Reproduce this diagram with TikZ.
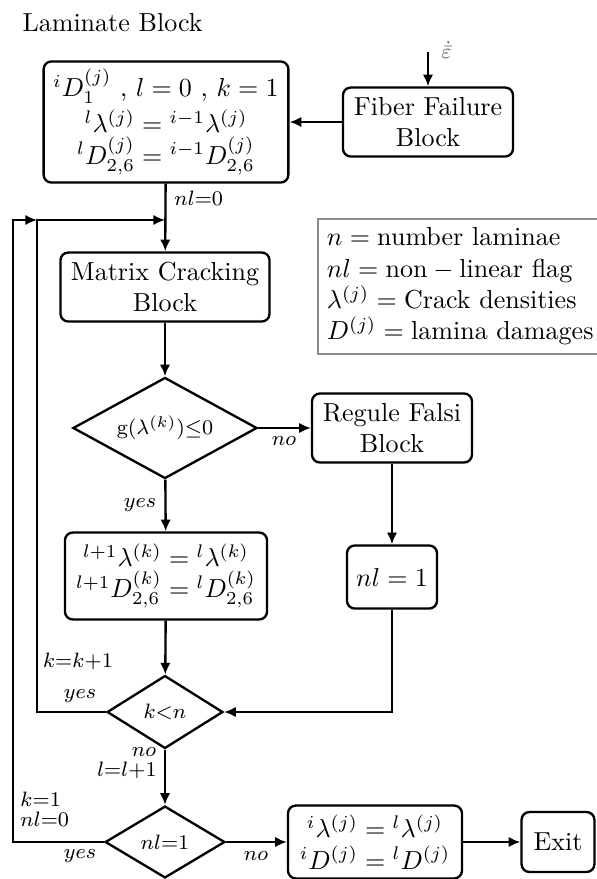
\documentclass[tikz,border=0pt]{standalone}
\usepackage{amssymb, mathtools, amsmath}
\usepackage{tikz}
\usetikzlibrary{shapes.geometric,arrows.meta}

\begin{document}
\begin{tikzpicture}[x=0.384pt,y=0.384pt,yscale=-1,xscale=1,
  blk/.style={draw,line width=0.9pt,rounded corners=3pt,align=center,inner sep=1pt},
  dmd/.style={draw,line width=0.9pt,diamond,aspect=1.8,inner sep=0pt,font=\footnotesize},
  arr/.style={line width=0.9pt,-{Latex[length=4.5pt,width=4pt]}},
  lbl/.style={inner sep=0.75pt,font=\footnotesize}]
\useasboundingbox (0,0) rectangle (597,879);

% Text Node
\node (title) [anchor=west,inner sep=0pt] at (22,23) {Laminate Block};

%Shape: Rounded Rect [init]
\node (init) [blk,minimum width=94pt,minimum height=46.5pt] at (166,122)
  {${}^{i}D_{1}^{(j)}$ , $l=0$ , $k=1$\\[2pt]
   ${}^{l}\lambda^{(j)}={}^{i-1}\lambda^{(j)}$\\
   ${}^{l}D_{2,6}^{(j)}={}^{i-1}D_{2,6}^{(j)}$};
%Shape: Rounded Rect [fiber]
\node (fiber) [blk,minimum width=65.3pt,minimum height=26.5pt] at (428,122) {Fiber Failure\\Block};
%Shape: Rounded Rect [matrix]
\node (matrix) [blk,minimum width=80.3pt,minimum height=26.5pt] at (165,287) {Matrix Cracking\\Block};
%Shape: Diamond [g]
\node (gd) [dmd,minimum width=70.7pt,minimum height=38.8pt] at (165,428) {$\mathrm{g}(\lambda^{(k)}){\leq}0$};
%Shape: Rounded Rect [regule]
\node (regule) [blk,minimum width=61.4pt,minimum height=26.5pt] at (392,428) {Regule Falsi\\Block};
%Shape: Rounded Rect [nl]
\node (nlbox) [blk,minimum width=34.6pt,minimum height=24.2pt] at (392,577) {$nl=1$};
%Shape: Rounded Rect [update]
\node (update) [blk,minimum width=77.6pt,minimum height=33.4pt] at (166,576)
  {${}^{l+1}\lambda^{(k)}={}^{l}\lambda^{(k)}$\\
   ${}^{l+1}D_{2,6}^{(k)}={}^{l}D_{2,6}^{(k)}$};
%Shape: Diamond [k<n]
\node (kn) [dmd,minimum width=44.5pt,minimum height=28pt] at (165,712) {$k{<}n$};
%Shape: Diamond [nl=1]
\node (nld) [dmd,minimum width=46pt,minimum height=27.6pt] at (165,842) {$nl{=}1$};
%Shape: Rounded Rect [final]
\node (final) [blk,minimum width=66.8pt,minimum height=28pt] at (375,842)
  {${}^{i}\lambda^{(j)}={}^{l}\lambda^{(j)}$\\
   ${}^{i}D^{(j)}={}^{l}D^{(j)}$};
%Shape: Rounded Rect [exit]
\node (exit) [blk,minimum width=28pt,minimum height=23pt] at (558,842) {Exit};

%Shape: Rect [legend]
\node (legend) [draw=black!45,line width=0.6pt,anchor=north west,align=left,inner sep=3.5pt] at (317,218)
  {$n=\text{number laminae}$\\
   $nl=\text{non}-\text{linear flag}$\\
   $\lambda^{(j)}=\text{Crack densities}$\\
   $D^{(j)}=\text{lamina damages}$};

% loop points
\coordinate (epsin) at (428,52);
\coordinate (join) at (165,220);
\coordinate (inner) at (37,220);
\coordinate (outer) at (13,220);

%Straight Lines
\draw [arr] (epsin) -- (fiber);
\draw [arr] (fiber) -- (init);
\draw [arr] (init) -- (matrix);
\draw [arr] (matrix) -- (gd);
\draw [arr] (gd) -- (update);
\draw [arr] (gd) -- (regule);
\draw [arr] (regule) -- (nlbox);
\draw [arr] (nlbox.south) |- (kn.east);
\draw [arr] (update) -- (kn);
\draw [arr] (kn) -- (nld);
\draw [arr] (nld) -- (final);
\draw [arr] (final) -- (exit);
\draw [arr] (kn.west) -| (inner) -- (join);
\draw [arr] (nld.west) -| (outer) -- (inner);

% Text Node
\node (epslbl) [lbl,anchor=west,text=black!60] at (439,50) {$\dot{\bar{\varepsilon}}$};
\node (nlzero) [lbl,anchor=west] at (172,198) {$nl{=}0$};
\node (gno) [lbl] at (284,441) {$no$};
\node (gyes) [lbl] at (140,505) {$yes$};
\node (kinc) [lbl] at (78,661) {$k{=}k{+}1$};
\node (knyes) [lbl] at (80,696) {$yes$};
\node (knno) [lbl] at (144,752) {$no$};
\node (linc) [lbl] at (127,770) {$l{=}l{+}1$};
\node (reset) [lbl,anchor=west,align=left] at (18,809) {$k{=}1$\\[-2pt]$nl{=}0$};
\node (nlyes) [lbl] at (80,856) {$yes$};
\node (nlno) [lbl] at (256,856) {$no$};

\end{tikzpicture}
\end{document}
